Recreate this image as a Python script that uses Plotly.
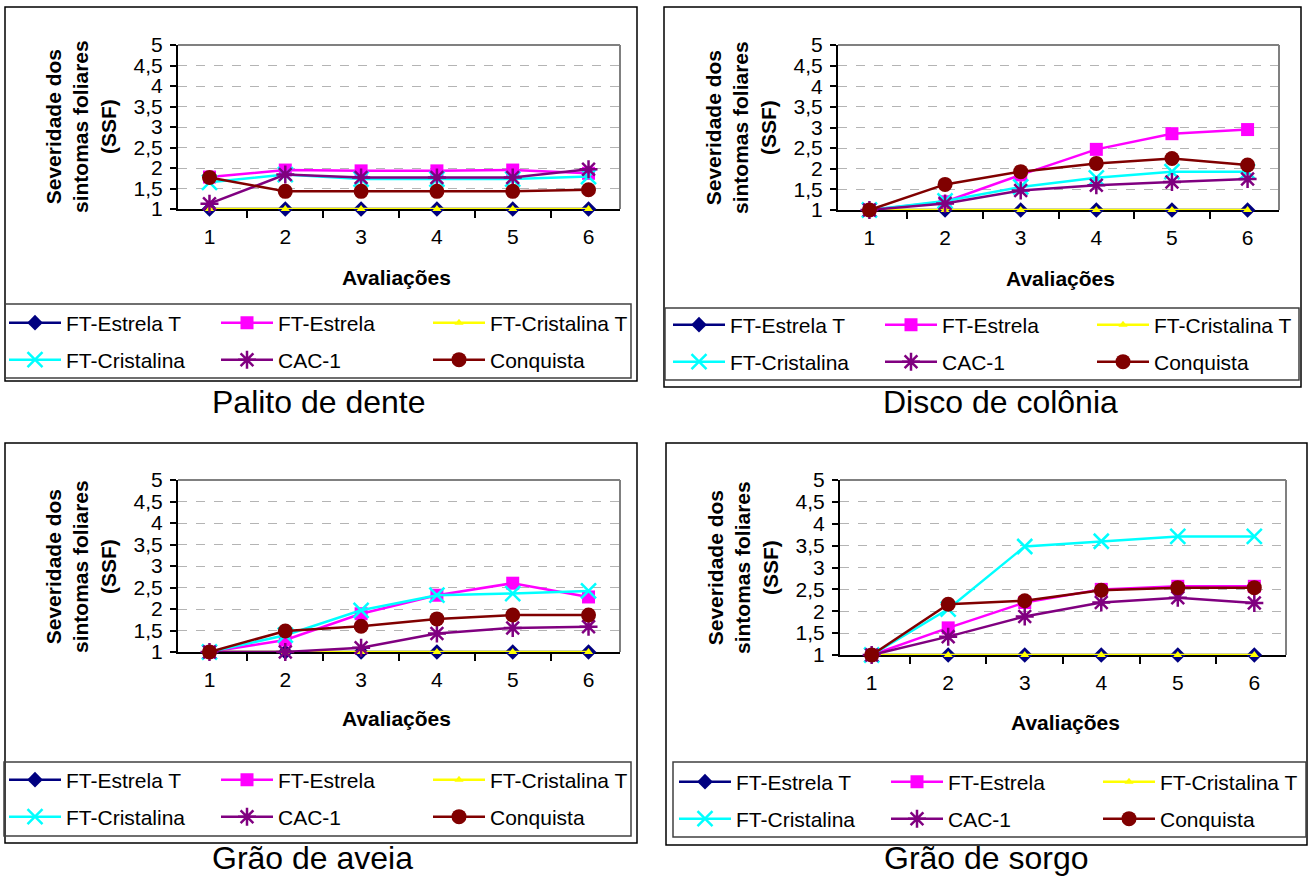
import plotly.graph_objects as go

W, H = 1309, 876
FONT = "Liberation Sans, Arial, sans-serif"

# Evaluation rounds (category axis)
avaliacoes = ["1", "2", "3", "4", "5", "6"]
series_names = ["FT-Estrela T", "FT-Estrela", "FT-Cristalina T",
                "FT-Cristalina", "CAC-1", "Conquista"]

# Palito de dente
palito_ft_estrela_t = [1, 1, 1, 1, 1, 1]
palito_ft_estrela = [1.78, 1.95, 1.93, 1.93, 1.95, 1.87]
palito_ft_cristalina_t = [1, 1, 1, 1, 1, 1]
palito_ft_cristalina = [1.65, 1.84, 1.73, 1.73, 1.73, 1.79]
palito_cac1 = [1.13, 1.84, 1.77, 1.77, 1.77, 1.97]
palito_conquista = [1.77, 1.43, 1.43, 1.43, 1.43, 1.47]

# Disco de colônia
disco_ft_estrela_t = [1, 1, 1, 1, 1, 1]
disco_ft_estrela = [1.0, 1.2, 1.85, 2.47, 2.85, 2.95]
disco_ft_cristalina_t = [1, 1, 1, 1, 1, 1]
disco_ft_cristalina = [1.0, 1.22, 1.56, 1.78, 1.93, 1.93]
disco_cac1 = [1.0, 1.16, 1.47, 1.6, 1.68, 1.75]
disco_conquista = [1.0, 1.62, 1.93, 2.13, 2.25, 2.09]

# Grão de aveia
aveia_ft_estrela_t = [1, 1, 1, 1, 1, 1]
aveia_ft_estrela = [1.0, 1.28, 1.89, 2.32, 2.6, 2.28]
aveia_ft_cristalina_t = [1, 1, 1, 1, 1, 1]
aveia_ft_cristalina = [1.0, 1.39, 1.97, 2.32, 2.36, 2.42]
aveia_cac1 = [1.0, 1.0, 1.1, 1.43, 1.56, 1.59]
aveia_conquista = [1.0, 1.49, 1.6, 1.77, 1.86, 1.86]

# Grão de sorgo
sorgo_ft_estrela_t = [1, 1, 1, 1, 1, 1]
sorgo_ft_estrela = [1.0, 1.62, 2.2, 2.5, 2.57, 2.57]
sorgo_ft_cristalina_t = [1, 1, 1, 1, 1, 1]
sorgo_ft_cristalina = [1.0, 2.05, 3.48, 3.6, 3.71, 3.71]
sorgo_cac1 = [1.0, 1.42, 1.88, 2.2, 2.31, 2.19]
sorgo_conquista = [1.0, 2.16, 2.24, 2.48, 2.54, 2.54]

panel_titles = ["Palito de dente", "Disco de colônia", "Grão de aveia", "Grão de sorgo"]
panel_data = [
    [palito_ft_estrela_t, palito_ft_estrela, palito_ft_cristalina_t,
     palito_ft_cristalina, palito_cac1, palito_conquista],
    [disco_ft_estrela_t, disco_ft_estrela, disco_ft_cristalina_t,
     disco_ft_cristalina, disco_cac1, disco_conquista],
    [aveia_ft_estrela_t, aveia_ft_estrela, aveia_ft_cristalina_t,
     aveia_ft_cristalina, aveia_cac1, aveia_conquista],
    [sorgo_ft_estrela_t, sorgo_ft_estrela, sorgo_ft_cristalina_t,
     sorgo_ft_cristalina, sorgo_cac1, sorgo_conquista],
]

# Line / marker style of each series
styles = [
    dict(color="#000080", symbol="diamond", size=12, lw=0),
    dict(color="#FF00FF", symbol="square", size=13, lw=0),
    dict(color="#FFFF00", symbol="triangle-up", size=8, lw=0),
    dict(color="#00FFFF", symbol="x-thin-open", size=15, lw=2.5),
    dict(color="#800080", symbol="asterisk-open", size=15, lw=2.5),
    dict(color="#800000", symbol="circle", size=15, lw=0),
]

# Pixel layout of each panel
panels = [
    dict(plot=(178, 620, 45, 209), frame=(5, 637, 7, 381), lbox=(5, 631, 304, 378),
         leg_x=9, rows=(323, 360), ytitle=(81, 127), xtitle=(396, 277), sub=(319, 402)),
    dict(plot=(838, 1279, 45, 210), frame=(664, 1301, 7, 387), lbox=(665, 1299, 308, 380),
         leg_x=673, rows=(325, 362), ytitle=(741, 127), xtitle=(1060, 278), sub=(1001, 402)),
    dict(plot=(178, 620, 480, 652), frame=(5, 637, 443, 843), lbox=(4, 631, 762, 836),
         leg_x=9, rows=(780, 817), ytitle=(81, 567), xtitle=(396, 718), sub=(312, 858)),
    dict(plot=(840, 1286, 480, 655), frame=(666, 1307, 443, 845), lbox=(673, 1306, 762, 837),
         leg_x=679, rows=(782, 819), ytitle=(743, 568), xtitle=(1065, 722), sub=(986, 858)),
]


def px(x):
    return x / W


def py(y):
    return 1 - y / H


fig = go.Figure()
shapes = []
annotations = []
layout_axes = {}
legends = {}

for p, (pan, data, title) in enumerate(zip(panels, panel_data, panel_titles)):
    n = p + 1
    xa = "x" if n == 1 else f"x{n}"
    ya = "y" if n == 1 else f"y{n}"
    leg_row1 = "legend" if p == 0 else f"legend{2 * p + 1}"
    leg_row2 = f"legend{2 * p + 2}"

    for i, (name, vals, st) in enumerate(zip(series_names, data, styles)):
        fig.add_trace(go.Scatter(
            x=avaliacoes, y=vals, name=name, mode="lines+markers",
            xaxis=xa, yaxis=ya, cliponaxis=False,
            legend=leg_row1 if i < 3 else leg_row2,
            line=dict(color=st["color"], width=2.5),
            marker=dict(symbol=st["symbol"], size=st["size"], color=st["color"],
                        line=dict(color=st["color"], width=st["lw"])),
        ))

    x0, x1, y0, y1 = pan["plot"]
    xkey = "xaxis" if n == 1 else f"xaxis{n}"
    ykey = "yaxis" if n == 1 else f"yaxis{n}"
    layout_axes[xkey] = dict(
        domain=[px(x0), px(x1)], anchor=ya, type="category",
        categoryorder="array", categoryarray=avaliacoes,
        showline=True, linecolor="black", linewidth=2,
        ticks="outside", tickson="boundaries", ticklen=7, tickwidth=1.5, tickcolor="black",
        showgrid=False, zeroline=False, layer="below traces",
        tickfont=dict(size=21, color="black", family=FONT), ticklabelstandoff=8,
        fixedrange=True,
    )
    layout_axes[ykey] = dict(
        domain=[py(y1), py(y0)], anchor=xa, range=[1, 5], tick0=1, dtick=0.5,
        showline=True, linecolor="black", linewidth=2,
        ticks="outside", ticklen=6, tickwidth=1.5, tickcolor="black",
        showgrid=True, gridcolor="#b4b4b4", griddash="dash", gridwidth=1,
        zeroline=False, layer="below traces",
        tickfont=dict(size=21, color="black", family=FONT), ticklabelstandoff=3,
        fixedrange=True,
    )

    # grey top and right edges of the plot area
    shapes.append(dict(type="line", xref=f"{xa} domain", yref=f"{ya} domain",
                       x0=0, x1=1, y0=1, y1=1, line=dict(color="#808080", width=2)))
    shapes.append(dict(type="line", xref=f"{xa} domain", yref=f"{ya} domain",
                       x0=1, x1=1, y0=0, y1=1, line=dict(color="#808080", width=2)))

    # chart frame and legend box
    fx0, fx1, fy0, fy1 = pan["frame"]
    shapes.append(dict(type="rect", xref="paper", yref="paper",
                       x0=px(fx0), x1=px(fx1), y0=py(fy1), y1=py(fy0),
                       line=dict(color="black", width=1.5)))
    lx0, lx1, ly0, ly1 = pan["lbox"]
    shapes.append(dict(type="rect", xref="paper", yref="paper",
                       x0=px(lx0), x1=px(lx1), y0=py(ly1), y1=py(ly0),
                       line=dict(color="#404040", width=1.5)))

    for key, ry in ((leg_row1, pan["rows"][0]), (leg_row2, pan["rows"][1])):
        legends[key] = dict(
            orientation="h", x=px(pan["leg_x"] - 5), xanchor="left",
            y=py(ry), yanchor="middle", entrywidth=145, entrywidthmode="pixels",
            itemwidth=52, bgcolor="rgba(0,0,0,0)", borderwidth=0,
            font=dict(size=21, color="black", family=FONT),
            itemclick=False, itemdoubleclick=False,
        )

    tx, ty = pan["ytitle"]
    annotations.append(dict(
        text="<b>Severidade dos<br>sintomas foliares<br>(SSF)</b>",
        xref="paper", yref="paper", x=px(tx), y=py(ty), xanchor="center", yanchor="middle",
        textangle=-90, showarrow=False, font=dict(size=21, color="black", family=FONT),
    ))
    ax, ay = pan["xtitle"]
    annotations.append(dict(
        text="<b>Avaliações</b>", xref="paper", yref="paper", x=px(ax), y=py(ay),
        xanchor="center", yanchor="middle", showarrow=False,
        font=dict(size=21, color="black", family=FONT),
    ))
    sx, sy = pan["sub"]
    annotations.append(dict(
        text=title, xref="paper", yref="paper", x=px(sx), y=py(sy),
        xanchor="center", yanchor="middle", showarrow=False,
        font=dict(size=32, color="black", family=FONT),
    ))

fig.update_layout(
    width=W, height=H, margin=dict(l=0, r=0, t=0, b=0, autoexpand=False),
    paper_bgcolor="white", plot_bgcolor="white",
    separators=",.", font=dict(family=FONT, color="black"),
    shapes=shapes, annotations=annotations, hovermode=False,
    **layout_axes, **legends,
)

fig.write_html("out.html", config={"displayModeBar": False})
